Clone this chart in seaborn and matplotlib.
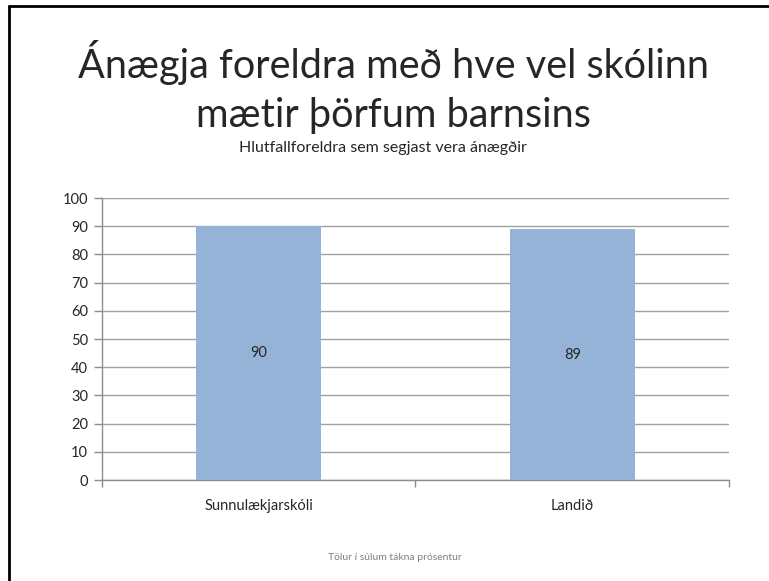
import pandas as pd
import matplotlib.pyplot as plt
import seaborn as sns
from matplotlib.lines import Line2D


# values
categories = ['Sunnulækjarskóli', 'Landið']
values = [90, 89]
y_ticks = list(range(0, 101, 10))

title = 'Ánægja foreldra með hve vel skólinn\nmætir þörfum barnsins'
subtitle = 'Hlutfallforeldra sem segjast vera ánægðir'
footnote = 'Tölur í súlum tákna prósentur'

df = pd.DataFrame({'Skóli': categories, 'Hlutfall': values})

sns.set_style('white')
plt.rcParams['font.family'] = ['Lato', 'DejaVu Sans']

fig = plt.figure(figsize=(7.69, 5.81), dpi=100)
ax = fig.add_axes([0.1326, 0.1738, 0.8154, 0.4854])

sns.barplot(data=df, x='Skóli', y='Hlutfall', color='#95B3D7', width=0.4,
            saturation=1, linewidth=0, ax=ax, zorder=3)
ax.bar_label(ax.containers[0], label_type='center', fontsize=10.5)

ax.set_xlim(-0.5, 1.5)
ax.set_ylim(0, 100)
ax.set_yticks(y_ticks)
ax.set_xticks([-0.5, 0.5, 1.5], minor=True)
ax.tick_params(axis='x', which='major', length=0, pad=14, labelsize=10.5)
ax.tick_params(axis='x', which='minor', length=5, width=1, color='#8c8c8c',
               direction='out', bottom=True)
ax.tick_params(axis='y', length=6, width=1, color='#8c8c8c', left=True,
               labelsize=10.5, pad=4)
ax.yaxis.grid(True, color='#a0a0a0', linewidth=1)
ax.set_axisbelow(True)
for side in ['top', 'right']:
    ax.spines[side].set_visible(False)
for side in ['left', 'bottom']:
    ax.spines[side].set_color('#8c8c8c')
    ax.spines[side].set_linewidth(1)
ax.set_xlabel('')
ax.set_ylabel('')

fig.text(0.512, 0.851, title, ha='center', va='center', fontsize=28.5,
         linespacing=1.4)
fig.text(0.498, 0.745, subtitle, ha='center', va='center', fontsize=11.5)
fig.text(0.513, 0.041, footnote, ha='center', va='center', fontsize=7.5,
         color='#808080')

# frame around the chart (only left and top edges visible)
fig.add_artist(Line2D([0.0117, 0.0117], [0, 0.989], color='black', linewidth=2,
                      transform=fig.transFigure))
fig.add_artist(Line2D([0.0117, 1], [0.989, 0.989], color='black', linewidth=2,
                      transform=fig.transFigure))

plt.savefig('out.png', dpi=100)
